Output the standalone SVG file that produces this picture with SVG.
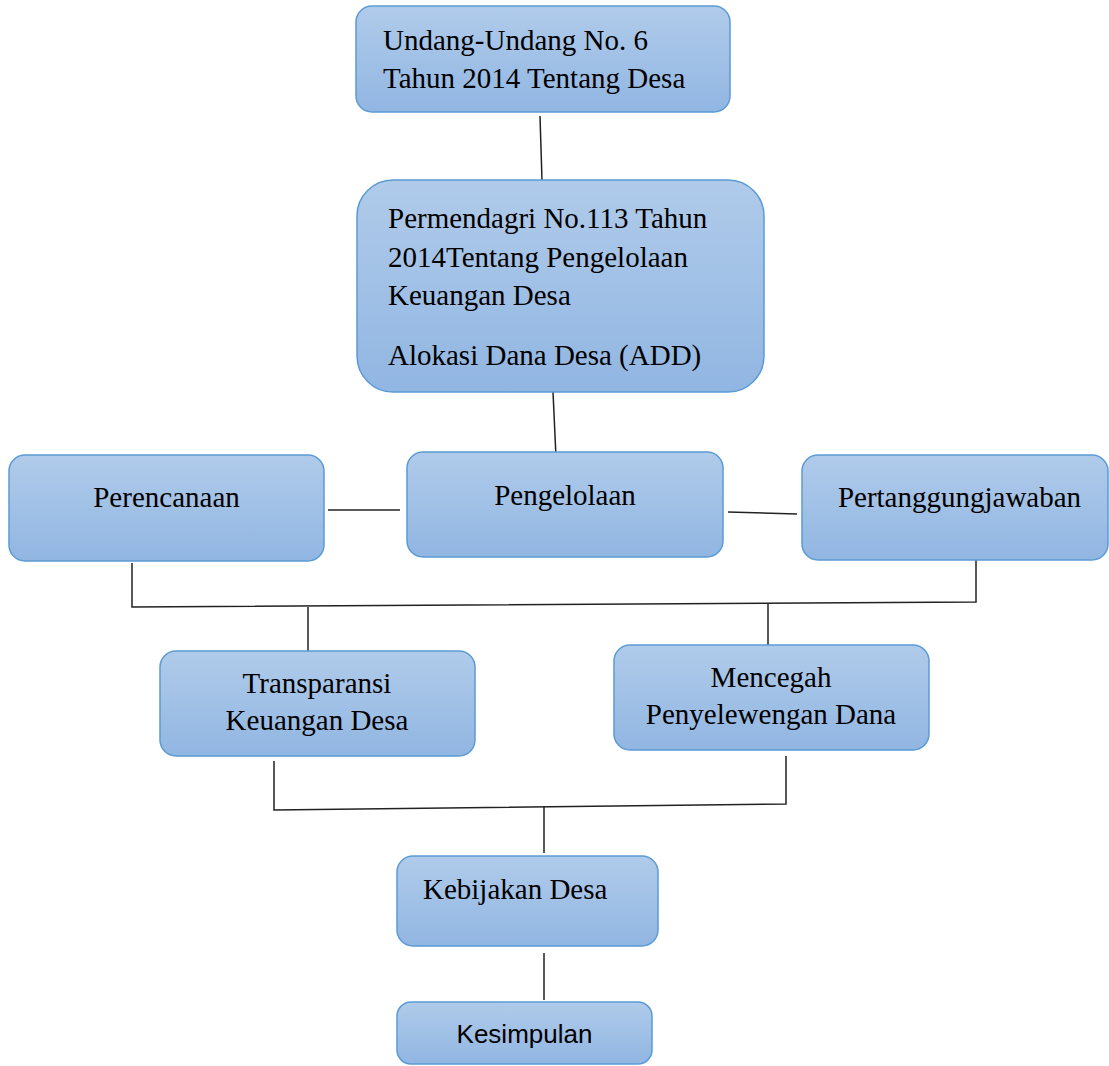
<svg xmlns="http://www.w3.org/2000/svg" width="1109" height="1066" viewBox="0 0 1109 1066">
<defs>
<linearGradient id="g" x1="0" y1="0" x2="0" y2="1">
<stop offset="0" stop-color="#b0cbea"/>
<stop offset="1" stop-color="#91b6e2"/>
</linearGradient>
<style>
.box{fill:url(#g);stroke:#5b9bd5;stroke-width:1.5}
.t{font-family:"Liberation Serif","Times New Roman",serif;font-size:29px;fill:#000}
.s{font-family:"Liberation Sans",Arial,sans-serif;font-size:26px;fill:#000}
.c{text-anchor:middle}
#connectors line,#connectors polyline{stroke:#222;stroke-width:1.5;fill:none}
</style>
</defs>
<rect width="1109" height="1066" fill="#fff"/>
<g id="connectors">
<line x1="540" y1="116" x2="542" y2="181"/>
<line x1="553" y1="392" x2="556" y2="457"/>
<line x1="328" y1="510" x2="400" y2="510"/>
<line x1="728" y1="512" x2="797" y2="514"/>
<polyline points="132,563 132,607 976,602 976,555"/>
<line x1="308" y1="607" x2="308" y2="651"/>
<line x1="768" y1="604" x2="768" y2="652"/>
<polyline points="274,761 274,810 786,804 786,756"/>
<line x1="544" y1="806" x2="544" y2="853"/>
<line x1="544" y1="953" x2="544" y2="1000"/>
</g>
<g id="n1">
<rect class="box" x="356" y="6" width="374" height="106" rx="16"/>
<text class="t" x="383" y="50">Undang-Undang No. 6</text>
<text class="t" x="383" y="88">Tahun 2014 Tentang Desa</text>
</g>
<g id="n2">
<rect class="box" x="357" y="180" width="407" height="212" rx="36"/>
<text class="t" x="388" y="228">Permendagri No.113 Tahun</text>
<text class="t" x="388" y="267">2014Tentang Pengelolaan</text>
<text class="t" x="388" y="305">Keuangan Desa</text>
<text class="t" x="388" y="365">Alokasi Dana Desa (ADD)</text>
</g>
<g id="n3">
<rect class="box" x="9" y="455" width="315" height="106" rx="16"/>
<text class="t c" x="166.5" y="507">Perencanaan</text>
</g>
<g id="n4">
<rect class="box" x="407" y="452" width="316" height="105" rx="16"/>
<text class="t c" x="565" y="505">Pengelolaan</text>
</g>
<g id="n5">
<rect class="box" x="802" y="455" width="306" height="105" rx="16"/>
<text class="t c" x="959.5" y="507">Pertanggungjawaban</text>
</g>
<g id="n6">
<rect class="box" x="160" y="651" width="315" height="105" rx="16"/>
<text class="t c" x="317" y="693">Transparansi</text>
<text class="t c" x="317" y="730">Keuangan Desa</text>
</g>
<g id="n7">
<rect class="box" x="614" y="645" width="315" height="105" rx="16"/>
<text class="t c" x="771" y="687">Mencegah</text>
<text class="t c" x="771" y="724">Penyelewengan Dana</text>
</g>
<g id="n8">
<rect class="box" x="397" y="856" width="261" height="90" rx="16"/>
<text class="t" x="423" y="899">Kebijakan Desa</text>
</g>
<g id="n9">
<rect class="box" x="397" y="1002" width="255" height="62" rx="14"/>
<text class="s c" x="524.5" y="1043">Kesimpulan</text>
</g>
</svg>
